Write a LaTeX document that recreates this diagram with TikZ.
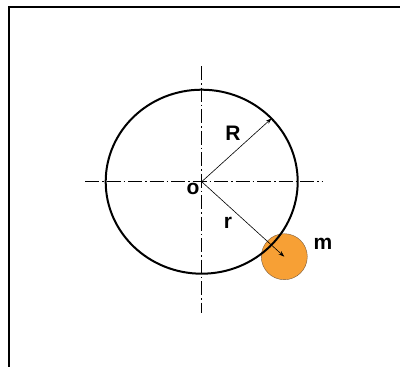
\documentclass[tikz,border=0pt]{standalone}
\usepackage{fontspec}
\setmainfont{Liberation Sans}
\usetikzlibrary{arrows.meta}
\begin{document}
\begin{tikzpicture}[x=1pt,y=-1pt,
  axisline/.style={line width=0.8pt,dash pattern=on 14pt off 3pt on 1.5pt off 3pt},
  radius arrow/.style={line width=0.6pt,-{Stealth[length=6pt,width=4pt]}},
  lbl/.style={font=\bfseries\fontsize{21}{21}\selectfont,inner sep=0pt}]
\useasboundingbox (0,0) rectangle (400,367);
\draw[line width=2pt] (9,367) -- (9,7) -- (400,7);
\coordinate (O) at (201.7,181.7);
\node[circle,minimum size=46pt,inner sep=0pt,fill={rgb,255:red,247;green,160;blue,53},draw={rgb,255:red,120;green,90;blue,60},line width=0.4pt] (m) at (284.3,256.7) {};
\draw[line width=2pt] (O) ellipse [x radius=96, y radius=92];
\draw[axisline] (85,181.7) -- (322,181.7);
\draw[axisline] (201.7,66) -- (201.7,313);
\coordinate (Rend) at (271.7,118.3);
\draw[radius arrow] (O) -- (Rend);
\draw[radius arrow] (O) -- (m.center);
\node[lbl] (Rl) at (233,133) {R};
\node[lbl] (ol) at (193,189) {o};
\node[lbl] (rl) at (228,223) {r};
\node[lbl] (ml) at (323,244) {m};
\end{tikzpicture}
\end{document}
